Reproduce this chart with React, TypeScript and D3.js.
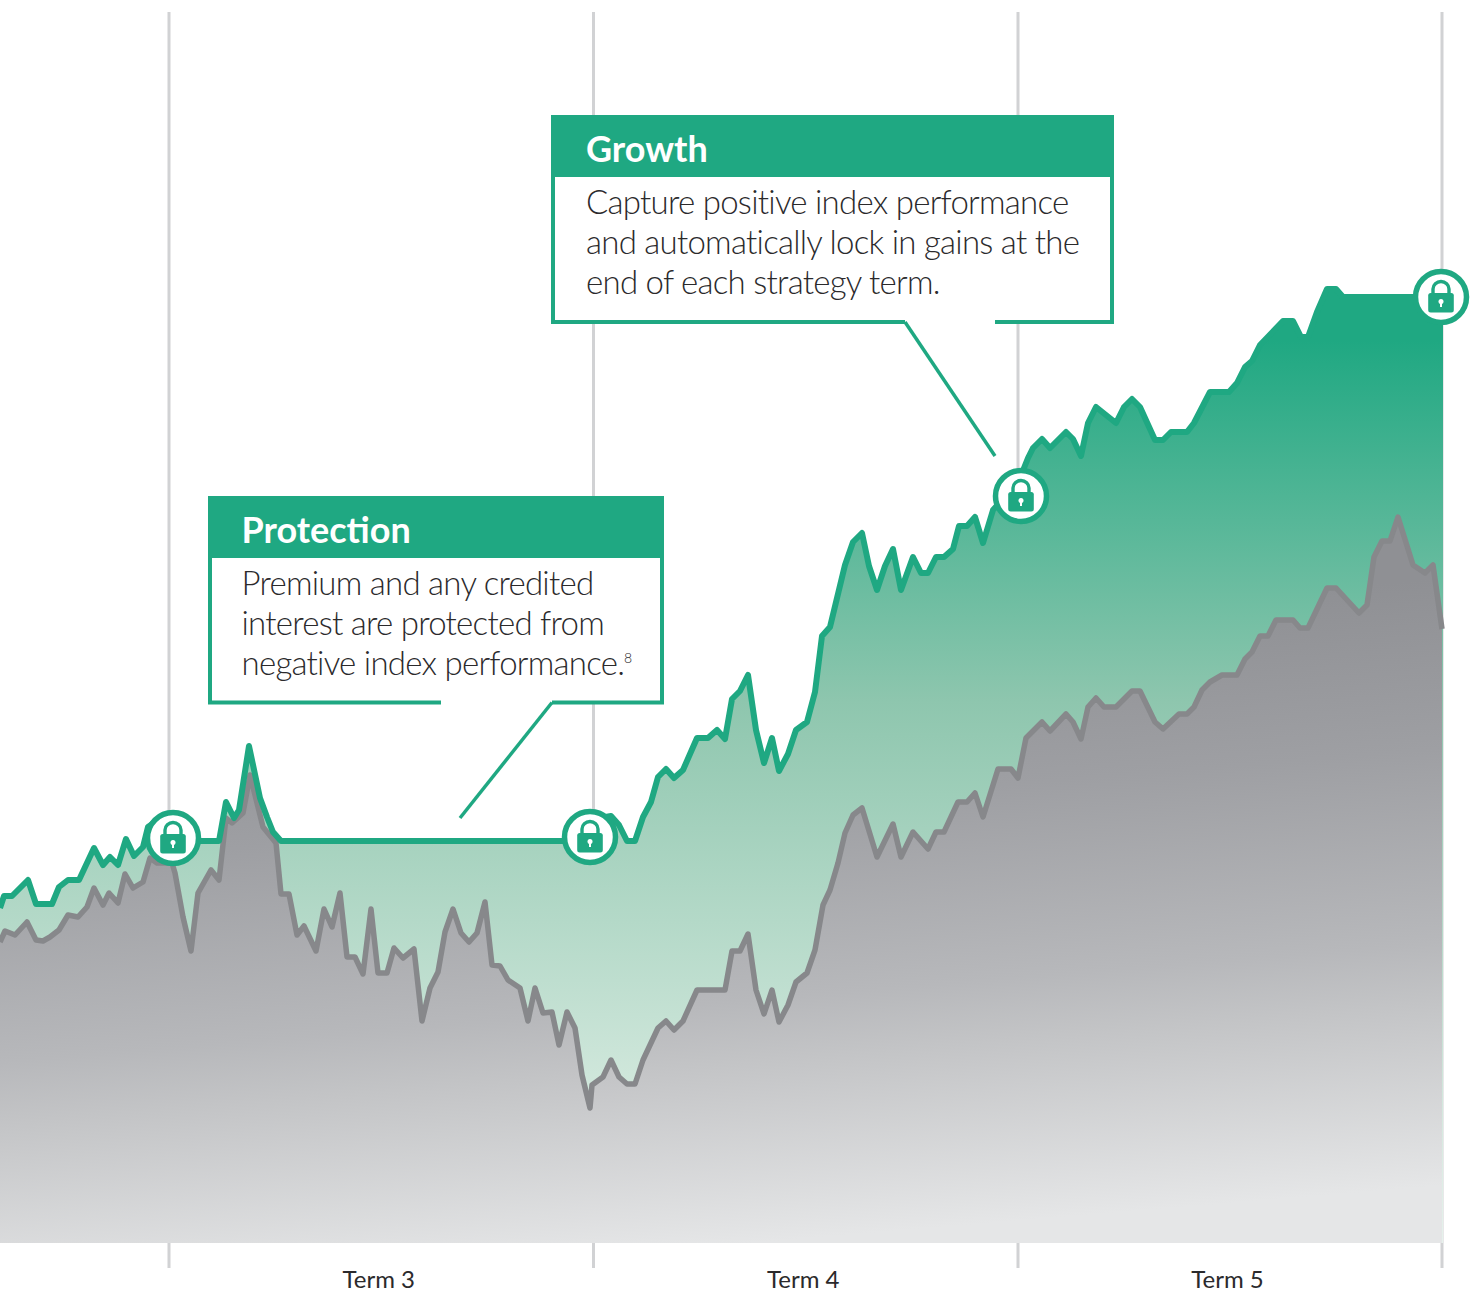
import React from 'react';
import * as d3 from 'd3';

// [day, level]
const indexSeries: [number, number][] = [
  [0, 301], [5, 312], [15, 308], [27, 321], [36, 303], [43, 302], [50, 306], [59, 313], [68, 328], [78, 326],
  [87, 336], [94, 355], [103, 338], [109, 350], [118, 340], [125, 369], [133, 355], [143, 361], [150, 385], [157, 380],
  [172, 380], [175, 370], [183, 326], [191, 292], [198, 350], [211, 373], [219, 363], [226, 425], [232, 420], [243, 430],
  [250, 468], [263, 416], [276, 400], [281, 349], [289, 349], [297, 308], [304, 317], [316, 292], [324, 334], [332, 316],
  [340, 350], [347, 286], [355, 286], [363, 269], [371, 334], [378, 270], [387, 270], [394, 295],
  [403, 285], [414, 294], [422, 222], [430, 255], [438, 271], [445, 311], [453, 334], [461, 310], [469, 301], [477, 310],
  [485, 341], [492, 278], [500, 277], [508, 263], [520, 255], [528, 222], [535, 255], [543, 230], [552, 231], [559, 198],
  [567, 231], [575, 215], [582, 168], [590, 135], [592, 158], [603, 166], [611, 183], [619, 166], [627, 159], [635, 159],
  [643, 183], [658, 215], [666, 222], [674, 213], [683, 222], [697, 253], [725, 253], [732, 292], [740, 292], [748, 309],
  [756, 253], [764, 229], [772, 253], [779, 221], [788, 238], [796, 261], [807, 270], [815, 293], [823, 338], [830, 353],
  [838, 380], [845, 410], [853, 428], [862, 435], [877, 386], [893, 419], [901, 386], [913, 411], [928, 394], [936, 411],
  [944, 411], [958, 441], [967, 441], [975, 450], [983, 426], [998, 474], [1011, 474], [1018, 465], [1026, 505], [1042, 521],
  [1050, 512], [1066, 529], [1073, 521], [1081, 504], [1088, 536], [1096, 545], [1104, 536], [1116, 536], [1132, 552], [1140, 552],
  [1155, 521], [1163, 514], [1179, 529], [1187, 529], [1194, 536], [1202, 553], [1210, 561], [1222, 568], [1237, 568], [1245, 584],
  [1252, 591], [1260, 607], [1268, 607], [1276, 623], [1293, 623], [1300, 615], [1308, 615], [1327, 655], [1336, 655], [1359, 630],
  [1367, 638], [1374, 686], [1382, 702], [1390, 702], [1398, 726], [1413, 678], [1425, 670], [1433, 678], [1442, 614],
];

const growthSeries: [number, number][] = [
  [0, 335], [4, 347], [12, 347], [28, 363], [36, 339], [52, 339], [59, 356], [68, 363], [79, 363], [94, 395],
  [103, 378], [110, 386], [118, 378], [126, 404], [134, 387], [143, 396], [148, 416], [158, 423], [173, 402], [219, 402],
  [226, 441], [234, 425], [239, 433], [249, 497], [260, 445], [267, 426], [273, 411], [281, 402], [590, 402], [600, 425],
  [611, 427], [619, 418], [627, 402], [635, 402], [643, 426], [651, 441], [658, 466], [666, 474], [674, 465], [683, 473],
  [697, 505], [708, 505], [717, 513], [725, 504], [732, 544], [740, 552], [748, 568], [756, 513], [764, 480], [772, 505],
  [779, 472], [788, 489], [796, 513], [807, 521], [815, 551], [822, 607], [830, 616], [845, 678], [853, 701], [862, 710],
  [869, 677], [877, 653], [885, 677], [893, 694], [901, 653], [913, 686], [921, 670], [928, 670], [936, 686], [944, 686],
  [953, 694], [959, 717], [967, 717], [975, 726], [983, 700], [993, 733], [1022, 765], [1024, 775], [1028, 785], [1033, 795], [1042, 804],
  [1050, 795], [1066, 811], [1073, 804], [1081, 787], [1088, 820], [1096, 836], [1116, 820], [1124, 836], [1132, 844], [1140, 836],
  [1155, 803], [1163, 803], [1171, 811], [1187, 811], [1194, 820], [1210, 851], [1229, 851], [1237, 860], [1245, 876], [1252, 882],
  [1260, 898], [1283, 922], [1293, 922], [1301, 906], [1308, 906], [1317, 931], [1327, 954], [1336, 954], [1343, 946], [1443, 946],
];

const termBounds = [169, 593.5, 1018, 1442];
const termLabels = ['Term 3', 'Term 4', 'Term 5'];
const lockPoints: [number, number][] = [[173, 405], [590, 406], [1021, 747], [1441, 946]];

const growthTitle = 'Growth';
const growthLines = ['Capture positive index performance', 'and automatically lock in gains at the', 'end of each strategy term.'];
const protectionTitle = 'Protection';
const protectionLines = ['Premium and any credited', 'interest are protected from', 'negative index performance.'];

const GREEN = '#1fa882';
const GREY = '#87888b';
const RULE = '#d1d2d4';
const INK = '#2b2a2c';
const FONT = 'Lato, "Open Sans", sans-serif';

const WIDTH = 1472;
const HEIGHT = 1293;
const BASE_Y = 1243;

const x = d3.scaleLinear().domain([0, 1472]).range([0, WIDTH]);
const y = d3.scaleLinear().domain([0, BASE_Y]).range([BASE_Y, 0]);

const line = d3.line<[number, number]>().x(d => x(d[0])).y(d => y(d[1])).curve(d3.curveLinear);
const area = d3.area<[number, number]>().x(d => x(d[0])).y0(y(0)).y1(d => y(d[1])).curve(d3.curveLinear);

// padlock badge
const Lock = ({ cx, cy }: { cx: number; cy: number }) => (
  <g transform={`translate(${cx},${cy})`}>
    <circle r={25.5} fill="#fff" stroke={GREEN} strokeWidth={5.5} />
    <path d="M-8,-3 V-8 A8,7.5 0 0 1 8,-8 V-3" fill="none" stroke={GREEN} strokeWidth={3.4} />
    <rect x={-12.8} y={-4} width={25.6} height={19.6} rx={2.5} fill={GREEN} />
    <circle cy={4.4} r={2.5} fill="#fff" />
    <rect x={-1} y={4.4} width={2} height={5.6} fill="#fff" />
  </g>
);

interface CalloutProps {
  left: number;
  top: number;
  right: number;
  bottom: number;
  title: string;
  lines: string[];
  gapStart: number;
  gapEnd: number;
  pointer: [number, number];
  pointerFrom: number;
  textX: number;
  titleY: number;
  firstLineY: number;
  headerHeight: number;
}

const Callout = (p: CalloutProps) => (
  <g>
    <rect x={p.left} y={p.top} width={p.right - p.left} height={p.bottom - p.top} fill="#fff" />
    <path
      d={`M${p.gapStart},${p.bottom} H${p.left} V${p.top} H${p.right} V${p.bottom} H${p.gapEnd}`}
      fill="none"
      stroke={GREEN}
      strokeWidth={4}
    />
    <rect x={p.left} y={p.top} width={p.right - p.left} height={p.headerHeight} fill={GREEN} />
    <line x1={p.pointerFrom} y1={p.bottom} x2={p.pointer[0]} y2={p.pointer[1]} stroke={GREEN} strokeWidth={3.5} />
    <text x={p.textX} y={p.titleY} fill="#fff" fontFamily={FONT} fontWeight={700} fontSize={36}>{p.title}</text>
    {p.lines.map((t, i) => (
      <text key={t} x={p.textX} y={p.firstLineY + i * 40} fill={INK} fontFamily={FONT} fontWeight={300} fontSize={33} letterSpacing={-0.74}>{t}</text>
    ))}
  </g>
);

export default function App() {
  return (
    <svg width={WIDTH} height={HEIGHT} viewBox={`0 0 ${WIDTH} ${HEIGHT}`} style={{ position: 'absolute', left: 0, top: 0 }}>
      <defs>
        <linearGradient id="growthFill" gradientUnits="userSpaceOnUse" x1={0} y1={340} x2={0} y2={1243}>
          <stop offset="0%" stopColor="#1fa882" />
          <stop offset="40%" stopColor="#8ec6ae" />
          <stop offset="85%" stopColor="#d4e9de" />
          <stop offset="100%" stopColor="#e6f2ec" />
        </linearGradient>
        <linearGradient id="indexFill" gradientUnits="userSpaceOnUse" x1={700} y1={640} x2={750} y2={1243}>
          <stop offset="0%" stopColor="#8f9094" />
          <stop offset="28%" stopColor="#9e9fa3" />
          <stop offset="60%" stopColor="#b7b8bb" />
          <stop offset="70%" stopColor="#c3c4c6" />
          <stop offset="100%" stopColor="#e5e6e7" />
        </linearGradient>
      </defs>

      {termBounds.map(d => (
        <line key={d} x1={x(d)} x2={x(d)} y1={12} y2={1268} stroke={RULE} strokeWidth={3} />
      ))}

      <path d={area(growthSeries) as string} fill="url(#growthFill)" />
      <path d={area(indexSeries) as string} fill="url(#indexFill)" />
      <path d={line(indexSeries) as string} fill="none" stroke={GREY} strokeWidth={5.5} strokeLinejoin="round" />
      <path d={line(growthSeries) as string} fill="none" stroke={GREEN} strokeWidth={6} strokeLinejoin="round" />

      <Callout
        left={210}
        top={498}
        right={662}
        bottom={702.5}
        title={protectionTitle}
        lines={protectionLines}
        gapStart={441}
        gapEnd={552}
        pointer={[460, 818]}
        pointerFrom={552}
        textX={241.5}
        titleY={543}
        firstLineY={595}
        headerHeight={60}
      />
      <text x={624} y={663} fill={INK} fontFamily={FONT} fontWeight={300} fontSize={14}>8</text>

      <Callout
        left={553}
        top={117}
        right={1112}
        bottom={322}
        title={growthTitle}
        lines={growthLines}
        gapStart={905}
        gapEnd={995}
        pointer={[995, 456]}
        pointerFrom={905}
        textX={586}
        titleY={162}
        firstLineY={214}
        headerHeight={60}
      />

      {lockPoints.map(([d, v]) => (
        <Lock key={d} cx={x(d)} cy={y(v)} />
      ))}

      {termLabels.map((t, i) => (
        <text
          key={t}
          x={x((termBounds[i] + termBounds[i + 1]) / 2) - 2.5}
          y={1288}
          textAnchor="middle"
          fill={INK}
          fontFamily={FONT}
          fontSize={24}
        >
          {t}
        </text>
      ))}
    </svg>
  );
}
